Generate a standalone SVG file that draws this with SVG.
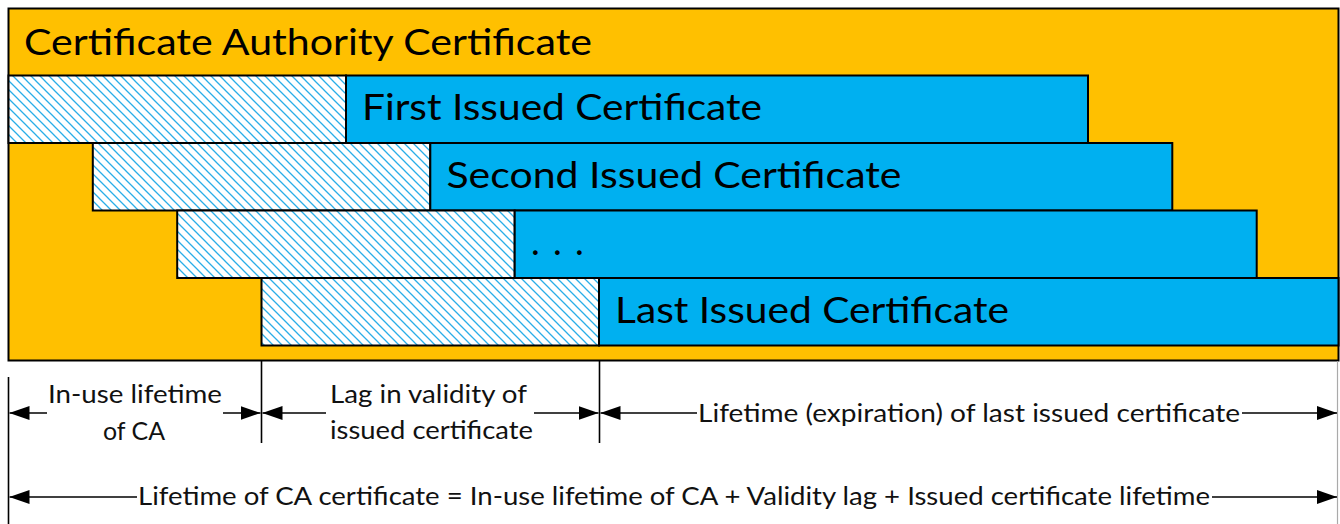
<svg xmlns="http://www.w3.org/2000/svg" width="1340" height="524" viewBox="0 0 1340 524">
  <defs>
    <pattern id="hatch" patternUnits="userSpaceOnUse" width="9" height="9">
      <rect width="9" height="9" fill="#ffffff"/>
      <path d="M-2,7 L2,11 M0,0 L9,9 M7,-2 L11,2" stroke="#2aaee8" stroke-width="1.3"/>
    </pattern>
    <marker id="arrow" markerUnits="userSpaceOnUse" markerWidth="20" markerHeight="14" refX="20" refY="7" orient="auto">
      <path d="M0,0 L20,7 L0,14 Z" fill="#000"/>
    </marker>
  </defs>
  <style>
    .ca { fill: #ffc000; stroke: #000; stroke-width: 2; }
    .lag { fill: url(#hatch); stroke: #000; stroke-width: 2; }
    .valid { fill: #00b0f0; stroke: #000; stroke-width: 2; }
    .big { font-family: Lato, "Liberation Sans", sans-serif; font-size: 37px; fill: #000; }
    .dim { font-family: Lato, "Liberation Sans", sans-serif; font-size: 25px; fill: #111; }
    .dim-mid { text-anchor: middle; }
    .tick { stroke: #000; stroke-width: 1.6; fill: none; }
    .edge { stroke: #aaa; stroke-width: 1.2; fill: none; }
    .arrow { stroke: #000; stroke-width: 1.6; fill: none; marker-end: url(#arrow); }
  </style>

  <rect width="1340" height="524" fill="#ffffff"/>

  <!-- CA certificate: the containing validity window -->
  <g id="ca-certificate">
    <rect class="ca" x="8.5" y="8.5" width="1330" height="352"/>
    <text class="big" x="24" y="55" textLength="568" lengthAdjust="spacingAndGlyphs">Certificate Authority Certificate</text>
  </g>

  <!-- issued certificates: hatched lag followed by the certificate lifetime -->
  <g id="cert-first">
    <rect class="lag" x="8.5" y="75.5" width="337.5" height="67.5"/>
    <rect class="valid" x="346" y="75.5" width="742" height="67.5"/>
    <text class="big" x="362" y="120" textLength="400" lengthAdjust="spacingAndGlyphs">First Issued Certificate</text>
  </g>

  <g id="cert-second">
    <rect class="lag" x="92.8" y="143" width="337.5" height="67.5"/>
    <rect class="valid" x="430.3" y="143" width="742" height="67.5"/>
    <text class="big" x="446.5" y="187.5" textLength="455" lengthAdjust="spacingAndGlyphs">Second Issued Certificate</text>
  </g>

  <g id="cert-more">
    <rect class="lag" x="177.2" y="210.5" width="337.5" height="67.5"/>
    <rect class="valid" x="514.7" y="210.5" width="742" height="67.5"/>
    <text class="big" x="531 542 553 564 575" y="255">. . .</text>
  </g>

  <g id="cert-last">
    <rect class="lag" x="261.5" y="278" width="337.5" height="67.5"/>
    <rect class="valid" x="599" y="278" width="739.5" height="67.5"/>
    <text class="big" x="615" y="322.5" textLength="394" lengthAdjust="spacingAndGlyphs">Last Issued Certificate</text>
  </g>

  <!-- dimension lines -->
  <g id="connectors">
    <line class="tick" x1="8.5" y1="377" x2="8.5" y2="524"/>
    <line class="tick" x1="261.5" y1="360" x2="261.5" y2="443"/>
    <line class="tick" x1="599.5" y1="360" x2="599.5" y2="443"/>
    <line class="edge" x1="1337.5" y1="361" x2="1337.5" y2="524"/>

    <line class="arrow" x1="47" y1="413" x2="9.5" y2="413"/>
    <line class="arrow" x1="223" y1="413" x2="260.5" y2="413"/>

    <line class="arrow" x1="326" y1="413" x2="262.5" y2="413"/>
    <line class="arrow" x1="534" y1="413" x2="598.5" y2="413"/>

    <line class="arrow" x1="697" y1="413" x2="600.5" y2="413"/>
    <line class="arrow" x1="1242" y1="413" x2="1337" y2="413"/>

    <line class="arrow" x1="137" y1="497" x2="9.5" y2="497"/>
    <line class="arrow" x1="1212" y1="497" x2="1337" y2="497"/>
  </g>

  <!-- dimension labels -->
  <g id="label-in-use">
    <text class="dim dim-mid" x="135" y="403" textLength="174" lengthAdjust="spacingAndGlyphs">In-use lifetime</text>
    <text class="dim dim-mid" x="134" y="440" textLength="62" lengthAdjust="spacingAndGlyphs">of CA</text>
  </g>
  <g id="label-lag">
    <text class="dim dim-mid" x="428.5" y="403" textLength="197" lengthAdjust="spacingAndGlyphs">Lag in validity of</text>
    <text class="dim dim-mid" x="431.5" y="439" textLength="203" lengthAdjust="spacingAndGlyphs">issued certificate</text>
  </g>
  <g id="label-issued-lifetime">
    <text class="dim" x="698" y="422" textLength="542" lengthAdjust="spacingAndGlyphs">Lifetime (expiration) of last issued certificate</text>
  </g>
  <g id="label-ca-lifetime">
    <text class="dim" x="138" y="505" textLength="1072" lengthAdjust="spacingAndGlyphs">Lifetime of CA certificate = In-use lifetime of CA + Validity lag + Issued certificate lifetime</text>
  </g>
</svg>
